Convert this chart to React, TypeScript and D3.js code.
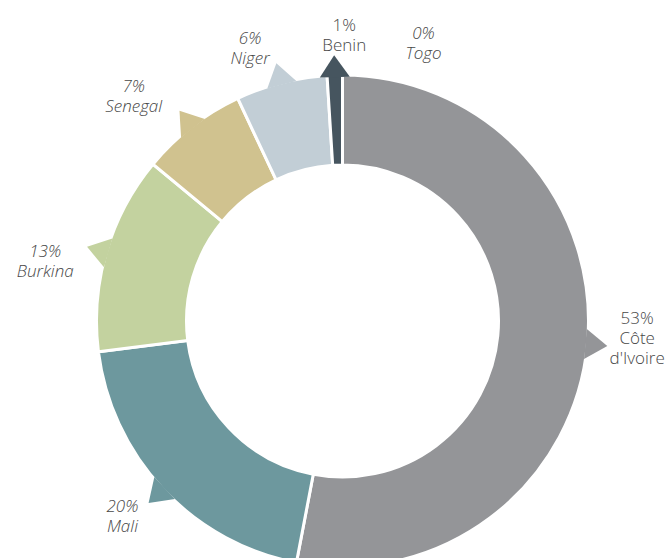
import { useEffect, useRef } from "react"
import * as d3 from "d3"

// data
const countries = ["Côte d'Ivoire", "Mali", "Burkina", "Senegal", "Niger", "Benin", "Togo"]
const shares = [53, 20, 13, 7, 6, 1, 0]
const shareLabels = ["53%", "20%", "13%", "7%", "6%", "1%", "0%"]
const labelLines = [["Côte", "d'Ivoire"], ["Mali"], ["Burkina"], ["Senegal"], ["Niger"], ["Benin"], ["Togo"]]

const colors = ["#949598", "#6d989e", "#c3d29f", "#d0c28f", "#c2ced6", "#46555f", "#999"]
// label tweaks around the radial position
const labelNudge = [
  [1, -11],
  [-5, -7],
  [-14, 22],
  [-28, 8],
  [-19, 12],
  [11, 9],
  [81, 17],
]
const italic = [false, true, true, true, true, false, true]

const W = 671
const H = 558

export default function App() {
  const svgRef = useRef<SVGSVGElement>(null)

  useEffect(() => {
    const svg = d3.select(svgRef.current)
    svg.selectAll("*").remove()

    const cx = 342.5
    const cy = 321
    const outer = 246
    const inner = 156
    const tipR = 266
    const labelR = 295

    const g = svg.append("g").attr("transform", `translate(${cx},${cy})`)

    const pie = d3
      .pie<number>()
      .sort(null)
      .value((d) => d)
    const arcs = pie(shares)

    const arc = d3.arc<d3.PieArcDatum<number>>().innerRadius(inner).outerRadius(outer)

    g.selectAll("path.slice")
      .data(arcs.filter((d) => d.value > 0))
      .enter()
      .append("path")
      .attr("class", "slice")
      .attr("d", arc)
      .attr("fill", (d) => colors[d.index])
      .attr("stroke", "#fff")
      .attr("stroke-width", 3)
      .attr("stroke-linejoin", "miter")

    // little pointer on each slice
    const polar = (a: number, r: number) => [r * Math.sin(a), -r * Math.cos(a)]
    g.selectAll("path.tip")
      .data(arcs.filter((d) => d.value > 0))
      .enter()
      .append("path")
      .attr("class", "tip")
      .attr("fill", (d) => colors[d.index])
      .attr("d", (d) => {
        const a = (d.startAngle + d.endAngle) / 2
        const [bx, by] = polar(a, outer - 2)
        const px = Math.cos(a) * 15
        const py = Math.sin(a) * 15
        const [tx, ty] = polar(a, tipR)
        return `M${bx - px},${by - py}L${tx},${ty}L${bx + px},${by + py}Z`
      })

    // labels
    const lh = 20
    const cap = 12.5
    arcs.forEach((d, i) => {
      const a = (d.startAngle + d.endAngle) / 2
      const [lx, ly] = polar(a, labelR)
      const x = lx + labelNudge[i][0]
      const y = ly + labelNudge[i][1]
      const lines = [shareLabels[i], ...labelLines[i]]
      const blockH = (lines.length - 1) * lh + cap
      const t = g
        .append("text")
        .attr("text-anchor", "middle")
        .style("font-family", "'Open Sans', sans-serif")
        .style("font-size", "17px")
        .style("font-weight", 300)
        .style("font-style", italic[i] ? "italic" : "normal")
        .style("fill", "#474747")
      lines.forEach((ln, j) => {
        t.append("tspan")
          .attr("x", x)
          .attr("y", y - blockH / 2 + cap + j * lh)
          .text(ln)
      })
    })
  }, [])

  return (
    <svg
      ref={svgRef}
      width={W}
      height={H}
      style={{ position: "absolute", left: 0, top: 0, background: "#fff" }}
    ></svg>
  )
}
